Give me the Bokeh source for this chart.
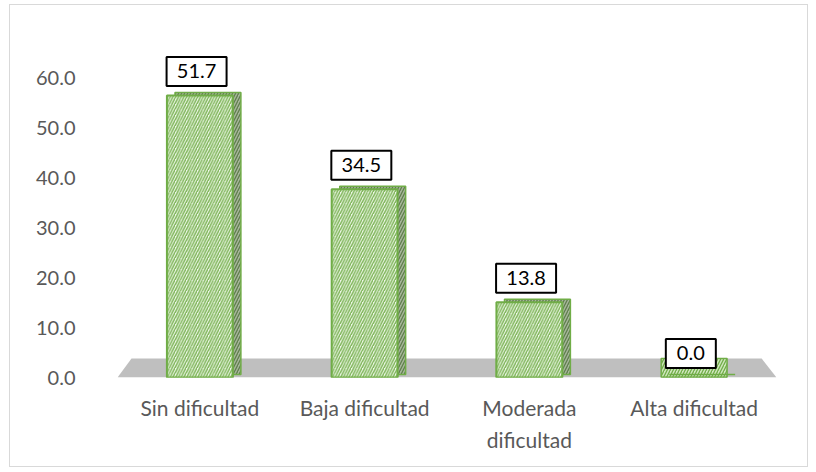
from bokeh.plotting import figure
from bokeh.models import (FactorRange, Range1d, LinearAxis, FixedTicker,
                          NumeralTickFormatter, ColumnDataSource)
from bokeh.transform import dodge
from bokeh.core.properties import value
from bokeh.embed import file_html
from bokeh.resources import INLINE

# ---- data ----
categories = ["Sin dificultad", "Baja dificultad", "Moderada\ndificultad", "Alta dificultad"]
values = [51.7, 34.5, 13.8, 0.0]
value_labels = ["51.7", "34.5", "13.8", "0.0"]
y_ticks = [0, 10, 20, 30, 40, 50, 60]

FONT = "Lato"
GREY_TXT = "#595959"
GREEN = "#70ad47"
depth = 3.48      # floor depth in bar units
lift = 0.55       # 3D extrusion lift
label_gap = 4.4   # label box centre above bar top (bar units)

p = figure(width=797, height=461,
           x_range=FactorRange(*categories, range_padding=0),
           y_range=Range1d(0, 61.78),
           output_backend="svg", toolbar_location=None,
           y_axis_location=None,
           min_border_left=107, min_border_right=31,
           min_border_top=35, min_border_bottom=89)
p.margin = (5, 0, 0, 10)
p.styles = {"outline": "1.5px solid #d9d9d9"}
p.background_fill_color = "white"
p.border_fill_color = "white"
p.outline_line_color = None
p.xgrid.visible = False
p.ygrid.visible = False

# value axis (perspective back wall)
p.extra_y_ranges = {"axis": Range1d(0, 67.4)}
yax = LinearAxis(y_range_name="axis", ticker=FixedTicker(ticks=y_ticks),
                 formatter=NumeralTickFormatter(format="0.0"))
yax.axis_line_color = None
yax.major_tick_line_color = None
yax.minor_tick_line_color = None
yax.major_label_text_font = FONT
yax.major_label_text_font_size = "20px"
yax.major_label_text_color = GREY_TXT
yax.major_label_standoff = 36
p.add_layout(yax, "left")

xax = p.xaxis[0]
xax.axis_line_color = None
xax.major_tick_line_color = None
xax.minor_tick_line_color = None
xax.major_label_text_font = FONT
xax.major_label_text_font_size = "21px"
xax.major_label_text_color = GREY_TXT
xax.major_label_text_line_height = 1.3
xax.major_label_standoff = 11

# floor
p.patch(x=[0, 0.085, 3.91, 4.0], y=[0, depth, depth, 0], color="#bfbfbf", line_color=None)

# footprints on floor
p.vbar(x=categories, bottom=0, top=depth, width=0.4,
       fill_color="#cfe6bd", line_color=GREEN, line_width=1.5,
       hatch_pattern="/", hatch_color=GREEN, hatch_scale=6, hatch_weight=1.3)

# side/top faces (extrusion)
side_top = [v + lift if v > 0 else lift for v in values]
p.vbar(x=dodge("x", 0.049, range=p.x_range), top="top", bottom=lift, width=0.4,
       source=ColumnDataSource(dict(x=categories, top=side_top)),
       fill_color="#a7b69b", line_color=GREEN, line_width=1.5,
       hatch_pattern="/", hatch_color="#5f7f4c", hatch_scale=6, hatch_weight=1.3)

# front faces
p.vbar(x=categories, top=values, bottom=0, width=0.4,
       fill_color="#eef7e8", line_color=GREEN, line_width=2,
       hatch_pattern="/", hatch_color="#7fb65a", hatch_scale=5.5, hatch_weight=1.5)

# data labels (boxed)
lab_src = ColumnDataSource(dict(
    x=categories,
    y=[v + label_gap for v in values],
    text=value_labels,
    w=[10 * len(s) + 20 for s in value_labels],
))
p.rect(x=dodge("x", -0.02, range=p.x_range), y="y", width="w", height=29,
       width_units="screen", height_units="screen", source=lab_src,
       fill_color="white", line_color="black", line_width=2)
p.text(x=dodge("x", -0.02, range=p.x_range), y="y", text="text", source=lab_src,
       text_align="center", text_baseline="middle",
       text_font=value(FONT), text_font_size="20px", text_color="black")

open("out.html", "w").write(file_html(p, INLINE))
